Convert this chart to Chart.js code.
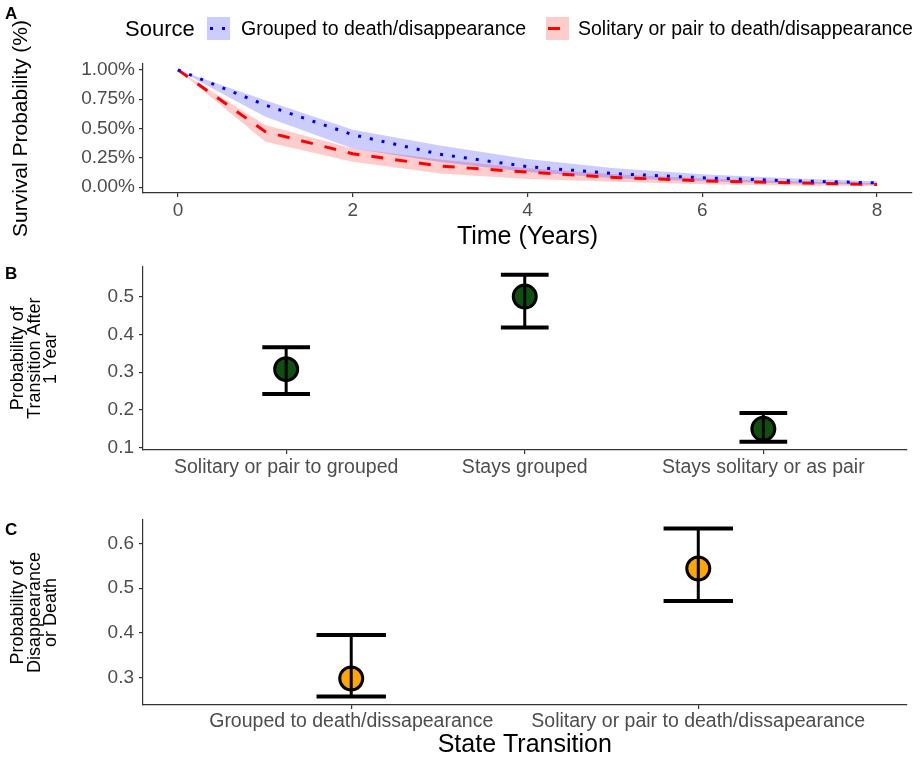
<!DOCTYPE html>
<html>
<head>
<meta charset="utf-8">
<script src="https://cdn.jsdelivr.net/npm/chart.js@4.4.1/dist/chart.umd.min.js"></script>
<style>
  body { margin: 0; background: #fff; font-family: "Liberation Sans", Arial, sans-serif; }
  #page { position: relative; width: 921px; height: 759px; overflow: hidden; background: #fff; }
  .panel { position: absolute; left: 0; width: 921px; z-index: 1; }
  .tag { position: absolute; left: 5px; font-weight: bold; font-size: 17px; line-height: 17px; color: #000; z-index: 2; }
  .leg { position: absolute; top: 17px; height: 23px; line-height: 23px; color: #000; white-space: nowrap; z-index: 2; }
  .key { position: absolute; top: 17px; width: 23px; height: 23px; z-index: 2; }
  .key div { position: absolute; top: 10px; height: 3px; }
</style>
</head>
<body>
<div id="page">
  <div class="panel" style="top:0px; height:256px"><canvas id="chartA"></canvas></div>
  <div class="panel" style="top:250px; height:230px"><canvas id="chartB"></canvas></div>
  <div class="panel" style="top:500px; height:259px"><canvas id="chartC"></canvas></div>

  <div class="tag" style="top:5px">A</div>
  <div class="tag" style="top:265px">B</div>
  <div class="tag" style="top:521px">C</div>

  <!-- legend of panel A -->
  <div class="leg" style="left:125px; font-size:22px">Source</div>
  <div class="key" style="left:207px; background:rgba(0,0,255,0.2)">
    <div style="left:3px; width:15px; background:repeating-linear-gradient(to right,#0000ee 0 3px,transparent 3px 12px)"></div>
  </div>
  <div class="leg" style="left:241px; font-size:19.5px">Grouped to death/disappearance</div>
  <div class="key" style="left:546px; background:rgba(255,0,0,0.2)">
    <div style="left:2px; width:12px; background:#ff0000"></div>
  </div>
  <div class="leg" style="left:578px; font-size:19.5px">Solitary or pair to death/disappearance</div>
</div>

<script>
// Panel A - survival curves (yearly steps)
const timeYears = [0, 1, 2, 3, 4, 5, 6, 7, 8];
const groupedSurv  = [1.0, 0.70, 0.447, 0.28, 0.175, 0.115, 0.08, 0.054, 0.037];
const groupedUpper = [1.0, 0.74, 0.49, 0.355, 0.24, 0.16, 0.11, 0.075, 0.05];
const groupedLower = [1.0, 0.60, 0.33, 0.215, 0.13, 0.075, 0.05, 0.03, 0.02];
const solitarySurv  = [1.0, 0.473, 0.285, 0.18, 0.128, 0.083, 0.054, 0.037, 0.022];
const solitaryUpper = [1.0, 0.53, 0.33, 0.235, 0.16, 0.11, 0.075, 0.05, 0.035];
const solitaryLower = [1.0, 0.387, 0.216, 0.117, 0.07, 0.045, 0.025, 0.015, 0.01];
const timeTicks = [0, 2, 4, 6, 8];
const survTicks = [0, 0.25, 0.5, 0.75, 1];
const survTickLabels = ['0.00%', '0.25%', '0.50%', '0.75%', '1.00%'];

// Panel B - transition after 1 year
const transCategories = ['Solitary or pair to grouped', 'Stays grouped', 'Stays solitary or as pair'];
const transEstimate = [0.308, 0.50, 0.15];
const transLower = [0.242, 0.418, 0.116];
const transUpper = [0.366, 0.558, 0.192];
const transTicks = [0.1, 0.2, 0.3, 0.4, 0.5];
const transTickLabels = ['0.1', '0.2', '0.3', '0.4', '0.5'];

// Panel C - disappearance or death
const deathCategories = ['Grouped to death/dissapearance', 'Solitary or pair to death/dissapearance'];
const deathEstimate = [0.298, 0.544];
const deathLower = [0.2575, 0.471];
const deathUpper = [0.3955, 0.6336];
const deathTicks = [0.3, 0.4, 0.5, 0.6];
const deathTickLabels = ['0.3', '0.4', '0.5', '0.6'];

const fontFamily = "'Liberation Sans', Arial, sans-serif";
Chart.defaults.font.family = fontFamily;
Chart.defaults.animation = false;

// Force an axis to a fixed size so panels line up
function fixSize(size) {
    return function (scale) {
        if (scale.isHorizontal()) scale.height = size;
        else scale.width = size;
    };
}

function setTicks(values) {
    return function (scale) {
        scale.ticks = values.map(v => ({ value: v }));
    };
}

function toPoints(xs, ys) {
    return xs.map((x, i) => ({ x: x, y: ys[i] }));
}

const axisLine = { display: true, color: '#333333', width: 1.2 };
const tickMarks = { display: true, drawOnChartArea: false, drawTicks: true, tickLength: 4, color: '#333333', lineWidth: 1.2 };

// Error bars drawn on top of the points
function makeErrorBars(lower, upper, halfWidth) {
    return {
        id: 'errorBars',
        afterDatasetsDraw(chart) {
            const ctx = chart.ctx;
            const x = chart.scales.x;
            const y = chart.scales.y;
            ctx.save();
            ctx.strokeStyle = '#000';
            ctx.lineCap = 'butt';
            lower.forEach((lo, i) => {
                const cx = x.getPixelForValue(i);
                const x0 = x.getPixelForValue(i - halfWidth);
                const x1 = x.getPixelForValue(i + halfWidth);
                const yl = y.getPixelForValue(lo);
                const yh = y.getPixelForValue(upper[i]);
                ctx.lineWidth = 3;
                ctx.beginPath();
                ctx.moveTo(cx, yl);
                ctx.lineTo(cx, yh);
                ctx.stroke();
                ctx.lineWidth = 4;
                ctx.beginPath();
                ctx.moveTo(x0, yl);
                ctx.lineTo(x1, yl);
                ctx.moveTo(x0, yh);
                ctx.lineTo(x1, yh);
                ctx.stroke();
            });
            ctx.restore();
        }
    };
}

// Panel A
new Chart(document.getElementById('chartA'), {
    type: 'line',
    data: {
        datasets: [
            { data: toPoints(timeYears, groupedSurv), borderColor: '#0000ee', borderWidth: 3, borderDash: [3, 9], pointRadius: 0, fill: false },
            { data: toPoints(timeYears, solitarySurv), borderColor: '#ff0000', borderWidth: 3, borderDash: [12, 12], pointRadius: 0, fill: false },
            { data: toPoints(timeYears, groupedUpper), borderColor: 'rgba(0,0,0,0)', borderWidth: 0, pointRadius: 0, backgroundColor: 'rgba(0,0,255,0.2)', fill: 3 },
            { data: toPoints(timeYears, groupedLower), borderColor: 'rgba(0,0,0,0)', borderWidth: 0, pointRadius: 0, fill: false },
            { data: toPoints(timeYears, solitaryUpper), borderColor: 'rgba(0,0,0,0)', borderWidth: 0, pointRadius: 0, backgroundColor: 'rgba(255,0,0,0.2)', fill: 5 },
            { data: toPoints(timeYears, solitaryLower), borderColor: 'rgba(0,0,0,0)', borderWidth: 0, pointRadius: 0, fill: false }
        ]
    },
    options: {
        responsive: true,
        maintainAspectRatio: false,
        events: [],
        layout: { padding: { top: 64, right: 9, left: 0, bottom: 0 } },
        plugins: { legend: { display: false }, tooltip: { enabled: false } },
        scales: {
            x: {
                type: 'linear', min: -0.4, max: 8.4,
                afterBuildTicks: setTicks(timeTicks),
                afterFit: fixSize(63),
                border: axisLine, grid: tickMarks,
                ticks: { color: '#4d4d4d', font: { size: 19 }, padding: 2, maxRotation: 0, autoSkip: false, callback: v => String(v) },
                title: { display: true, text: 'Time (Years)', color: '#000', font: { size: 25 }, padding: { top: 0, bottom: 4 } }
            },
            y: {
                type: 'linear', min: -0.05, max: 1.05,
                afterBuildTicks: setTicks(survTicks),
                afterFit: fixSize(143),
                border: axisLine, grid: tickMarks,
                ticks: { color: '#4d4d4d', font: { size: 19 }, padding: 4, callback: (v, i) => survTickLabels[i] },
                title: { display: true, text: 'Survival Probability (%)', color: '#000', font: { size: 21 }, padding: { top: 9, bottom: 0 } }
            }
        }
    }
});

function pointPanel(id, cats, est, lo, hi, ticks, tickLabels, color, cfg) {
    new Chart(document.getElementById(id), {
        type: 'scatter',
        data: {
            datasets: [{
                data: est.map((v, i) => ({ x: i, y: v })),
                pointRadius: 11.5,
                pointBorderWidth: 3,
                pointBackgroundColor: color,
                pointBorderColor: '#000'
            }]
        },
        plugins: [makeErrorBars(lo, hi, 0.1)],
        options: {
            responsive: true,
            maintainAspectRatio: false,
            events: [],
            layout: { padding: { top: cfg.padTop, right: cfg.padRight, left: 0, bottom: 0 } },
            plugins: { legend: { display: false }, tooltip: { enabled: false } },
            scales: {
                x: {
                    type: 'linear', min: -0.6, max: cats.length - 0.4,
                    afterBuildTicks: setTicks(cats.map((c, i) => i)),
                    afterFit: fixSize(cfg.xHeight),
                    border: axisLine, grid: tickMarks,
                    ticks: { color: '#4d4d4d', font: { size: 19.5 }, padding: cfg.xPad, maxRotation: 0, autoSkip: false, callback: v => cats[v] },
                    title: cfg.xTitle
                },
                y: {
                    type: 'linear', min: cfg.yMin, max: cfg.yMax,
                    afterBuildTicks: setTicks(ticks),
                    afterFit: fixSize(143),
                    border: axisLine, grid: tickMarks,
                    ticks: { color: '#4d4d4d', font: { size: 19 }, padding: 5, callback: (v, i) => tickLabels[i] },
                    title: { display: true, text: cfg.yTitle, color: '#000', font: { size: 18, lineHeight: '16.5px' }, padding: { top: 10, bottom: 0 } }
                }
            }
        }
    });
}

// Panel B
pointPanel('chartB', transCategories, transEstimate, transLower, transUpper, transTicks, transTickLabels, '#0f4f0f', {
    padTop: 13, padRight: 10, xHeight: 30, xPad: 2,
    yMin: 0.094, yMax: 0.58,
    yTitle: ['Probability of', 'Transition After', '1 Year'],
    xTitle: { display: false }
});

// Panel C
pointPanel('chartC', deathCategories, deathEstimate, deathLower, deathUpper, deathTicks, deathTickLabels, '#ffa500', {
    padTop: 20, padRight: 8, xHeight: 54, xPad: 1,
    yMin: 0.2387, yMax: 0.6524,
    yTitle: ['Probability of', 'Disappearance', 'or Death'],
    xTitle: { display: true, text: 'State Transition', color: '#000', font: { size: 25, lineHeight: 1.1 }, padding: { top: 0, bottom: 0 } }
});
</script>
</body>
</html>
